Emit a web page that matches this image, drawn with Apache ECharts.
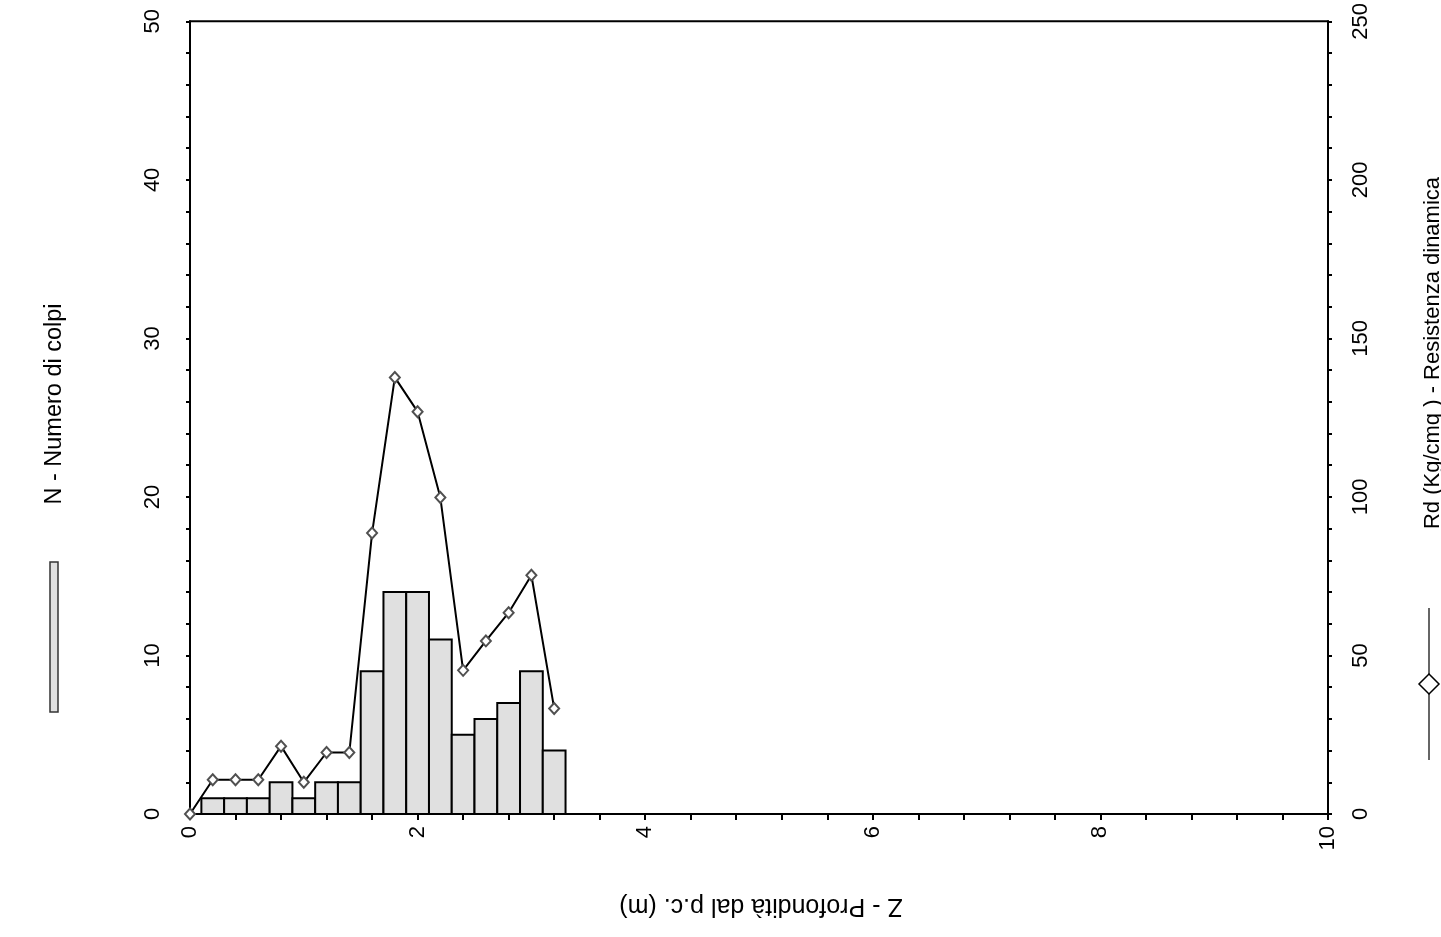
<!DOCTYPE html>
<html>
<head>
<meta charset="utf-8">
<script src="https://cdn.jsdelivr.net/npm/echarts@6/dist/echarts.min.js"></script>
<style>
html,body{margin:0;padding:0;background:#fff;}
#chart{width:1441px;height:937px;}
</style>
</head>
<body>
<div id="chart"></div>
<script>
// Depth (m) of each measurement
var barDepths = [0.2,0.4,0.6,0.8,1.0,1.2,1.4,1.6,1.8,2.0,2.2,2.4,2.6,2.8,3.0,3.2];
// N - number of blows
var blows = [1,1,1,2,1,2,2,9,14,14,11,5,6,7,9,4];
// Rd line depths and values (kg/cmq)
var rdDepths = [0,0.2,0.4,0.6,0.8,1.0,1.2,1.4,1.6,1.8,2.0,2.2,2.4,2.6,2.8,3.0,3.2];
var rdValues = [0,10.8,10.8,10.8,21.4,10.0,19.4,19.4,88.6,137.7,126.9,99.8,45.3,54.6,63.5,75.3,33.3];
// Step (m) of each bar
var step = 0.2;
// Axis titles
var xTitle = 'Z - Profondità dal p.c. (m)';
var yLeftTitle = 'N - Numero di colpi';
var yRightTitle = 'Rd (Kg/cmq ) - Resistenza dinamica';

var FONT = "'Liberation Sans', Arial, sans-serif";
function isMult(v, m){ var q = v / m; return Math.abs(q - Math.round(q)) < 1e-6; }

var barData = barDepths.map(function(d,i){ return [d, blows[i]]; });
var lineData = rdDepths.map(function(d,i){ return [d, rdValues[i]]; });

var chart = echarts.init(document.getElementById('chart'));
chart.setOption({
  animation: false,
  backgroundColor: '#ffffff',
  grid: { left: 190, right: 113, top: 18, bottom: 123, show: true, borderColor: '#000', borderWidth: 2, backgroundColor: 'transparent' },
  xAxis: {
    type: 'value', min: 0, max: 10, interval: 0.4,
    axisLine: { show: true, onZero: false, lineStyle: { color: '#000', width: 2 } },
    axisTick: { show: true, length: 6, lineStyle: { color: '#000', width: 2 } },
    splitLine: { show: false },
    axisLabel: {
      rotate: 90, margin: 12, fontSize: 22, color: '#000', fontFamily: FONT,
      formatter: function(v){ return isMult(v, 2) ? String(Math.round(v)) : ''; }
    }
  },
  yAxis: [{
    type: 'value', min: 0, max: 50, interval: 2, position: 'left',
    axisLine: { show: true, lineStyle: { color: '#000', width: 2 } },
    axisTick: { show: true, length: 4, lineStyle: { color: '#000', width: 2 } },
    splitLine: { show: false },
    axisLabel: {
      rotate: 90, margin: 26, fontSize: 22, color: '#000', fontFamily: FONT,
      formatter: function(v){ return isMult(v, 10) ? String(Math.round(v)) : ''; }
    }
  }, {
    type: 'value', min: 0, max: 250, interval: 10, position: 'right',
    axisLine: { show: true, lineStyle: { color: '#000', width: 2 } },
    axisTick: { show: true, length: 4, lineStyle: { color: '#000', width: 2 } },
    splitLine: { show: false },
    axisLabel: {
      rotate: 90, margin: 22, fontSize: 22, color: '#000', fontFamily: FONT,
      formatter: function(v){ return isMult(v, 50) ? String(Math.round(v)) : ''; }
    }
  }],
  series: [{
    type: 'custom', name: 'N', xAxisIndex: 0, yAxisIndex: 0,
    data: barData,
    encode: { x: 0, y: 1 },
    renderItem: function(params, api){
      var d = api.value(0), n = api.value(1);
      var p1 = api.coord([d - step/2, n]);
      var p2 = api.coord([d + step/2, 0]);
      return {
        type: 'rect',
        shape: { x: p1[0], y: p1[1], width: p2[0] - p1[0], height: p2[1] - p1[1] },
        style: { fill: '#e0e0e0', stroke: '#000', lineWidth: 2 }
      };
    },
    z: 2
  }, {
    type: 'line', name: 'Rd', xAxisIndex: 0, yAxisIndex: 1,
    data: lineData,
    symbol: 'diamond', symbolSize: [10, 11], showAllSymbol: true,
    lineStyle: { color: '#000', width: 2 },
    itemStyle: { color: '#ffffff', borderColor: '#505050', borderWidth: 2 },
    z: 3
  }],
  graphic: [
    { type: 'text', x: 55, y: 404, rotation: Math.PI/2,
      style: { text: yLeftTitle, font: '23.5px ' + FONT, fill: '#000', textAlign: 'center', textVerticalAlign: 'middle' } },
    { type: 'rect', shape: { x: 50, y: 562, width: 8, height: 150 },
      style: { fill: '#e0e0e0', stroke: '#333', lineWidth: 1.5 } },
    { type: 'text', x: 1433, y: 353, rotation: Math.PI/2,
      style: { text: yRightTitle, font: '22px ' + FONT, fill: '#000', textAlign: 'center', textVerticalAlign: 'middle' } },
    { type: 'line', shape: { x1: 1429, y1: 608, x2: 1429, y2: 760 },
      style: { stroke: '#333', lineWidth: 1.5 } },
    { type: 'polygon', shape: { points: [[1429,674],[1439,684],[1429,694],[1419,684]] },
      style: { fill: '#fff', stroke: '#000', lineWidth: 1.5 } },
    { type: 'text', x: 761, y: 906, rotation: Math.PI,
      style: { text: xTitle, font: '25px ' + FONT, fill: '#000', textAlign: 'center', textVerticalAlign: 'middle' } }
  ]
});
</script>
</body>
</html>
